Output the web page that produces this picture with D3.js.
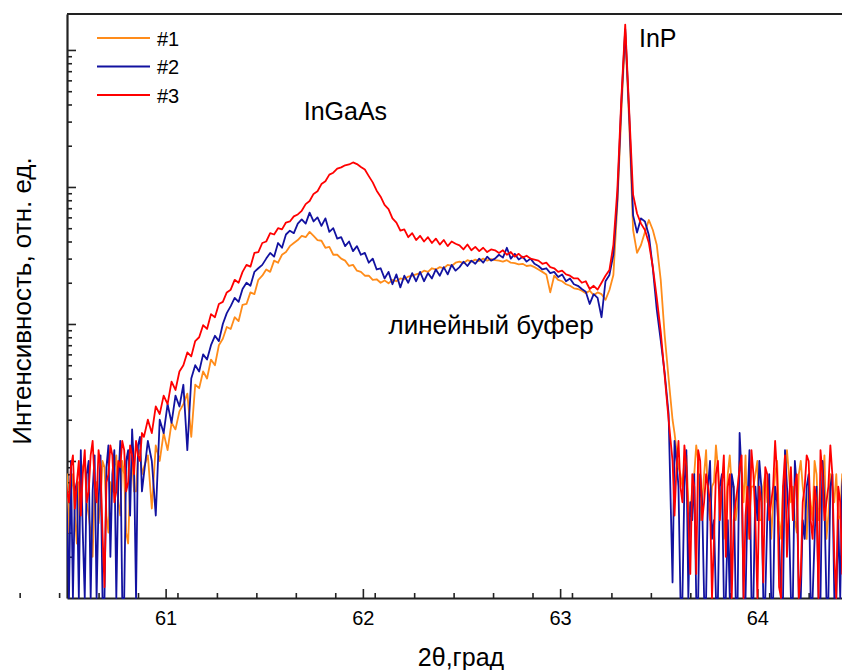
<!DOCTYPE html>
<html><head><meta charset="utf-8">
<script src="https://cdn.jsdelivr.net/npm/d3@7"></script>
<style>
body{margin:0;background:#fff}
svg{display:block}
text{font-family:"Liberation Sans",Arial,sans-serif;fill:#000}
</style>
</head><body>
<svg id="chart" width="842" height="670"></svg>
<script>
// ---- data ----
// 2θ sample positions (deg): fine steps in the noisy tails, 0.02 in between
const sampleX = [
  ...d3.range(6049, 6090, 1),
  ...d3.range(6091, 6358, 2),
  ...d3.range(6358, 6451, 1)
].map(v => v / 100);

const seriesNames = ["#1", "#2", "#3"];
const seriesColors = ["#ff8c1a", "#1212a0", "#ff0000"];
const xTickValues = [61, 62, 63, 64];

const series1 = [
 // 60.49 – 60.89
 5,8,3,6,8,4,2.5,7,6,9,
 10,5,4,3,2,6,7,3.5,5,10,
 9,4,3,7,6,9,11,5,4,10,
 8,3,2.5,7,10,6,6,11,12,8,
 9,
 // 60.91 – 63.57
 11,4.5,13,10,16,12,19,17,23,
 26,31,15,36,34,45,40,55,50,70,
 78,95,92,112,105,138,140,170,165,210,
 225,250,240,290,280,320,335,370,390,410,
 440,430,470,440,410,405,360,365,320,320,
 300,290,265,270,245,240,225,225,210,212,
 200,208,198,210,205,215,212,222,225,230,
 235,245,240,255,250,260,255,270,265,280,
 285,278,292,285,295,288,300,290,298,292,
 290,285,292,280,278,272,275,265,268,260,
 250,240,230,170,225,210,205,195,190,182,
 180,175,168,175,162,170,165,150,177,228,
 735,3400,13400,3000,485,330,377,470,574,485,
 377,210,83,40,20,
 // 63.58 – 64.50
 16,12,9,8,6.5,10,11,5,4,6.5,8,13,10,3.7,5,8,12,5,3.7,6.5,
 7,13,9,5,6.5,2.7,4,8,11,6.5,6.5,3.7,5,10,8,5,11,2.7,4,6.5,
 6.5,8,10,3.7,3.7,6.5,8,5,6.5,2.7,5,8,10,3.7,2.7,6.5,7,12,8,5,
 6.5,3.7,3,8,10,6.5,5,2.7,6.5,5,3.7,10,8,3.7,5,6.5,11,2.7,4,8,
 6.5,5,8,3.7,4,8,6.5,2.7,3.7,6.5,9,5,
 6.5
];
const series2 = [
 // 60.49 – 60.89
 9,4,1,10,1,6,7,1,12,3,
 1,8,10,1,6,11,1,5,11,1,
 1,9,13,2,8,12,1,7,14,1,
 1,10,12,4,17,9,1,13,15,6,
 8,
 // 60.91 – 63.57
 14,10,4,20,16,26,19,30,25,
 36,12,40,50,45,60,55,70,82,75,
 100,120,135,155,145,180,200,190,240,255,
 270,300,330,310,390,360,450,480,460,540,
 580,540,650,560,600,520,590,470,500,420,
 430,370,400,340,370,320,330,280,300,250,
 255,215,240,195,230,185,225,200,235,205,
 240,205,235,215,250,225,260,230,270,245,
 260,285,265,290,275,300,280,310,290,300,
 320,305,360,300,325,295,310,285,300,275,
 265,250,255,235,240,220,230,205,215,195,
 190,180,172,140,165,155,112,205,228,320,
 804,4000,14200,3400,620,465,590,560,445,255,
 127,76,44,22,1.3,
 // 63.58 – 64.50
 14,10,6.5,1,1,6.5,12,1,5,3.7,8,1,1,8,5,1,1,6.5,10,2.7,
 3.7,1,1,6.5,8,1,1,3.7,1,8,6.5,1,1,16,8,1,1,5,12,1,
 1,6.5,3.7,10,6.5,1,1,3.7,8,1,1,6.5,5,2.7,1,1,12,6.5,3.7,1,
 1,10,6.5,1,1,3.7,2.7,6.5,8,1,1,2.7,6.5,1,1,10,5,1,1,6.5,
 8,1,1,3.7,1,6.5,10,1,1,5,6.5,1,
 3.7
];
const series3 = [
 // 60.49 – 60.89
 8,6,5,9,11,4.5,7,10,4,8,
 12,5,6,11,14,7,5,12,9,3,
 1.2,7,8,13,11,5,6,10,9,14,
 12,6,7,13,11,8,14,11,10,16,
 15,
 // 60.91 – 63.57
 20,16,25,22,30,26,38,33,45,
 50,62,58,75,80,98,92,118,112,140,
 145,170,178,210,200,240,270,262,330,335,
 390,400,460,450,500,490,550,560,610,630,
 670,750,790,890,930,1050,1100,1230,1270,1360,
 1390,1440,1460,1510,1470,1400,1340,1200,1080,940,
 850,740,690,590,550,480,490,430,460,410,
 440,400,430,390,420,380,410,370,400,385,
 375,350,380,345,365,340,360,335,350,345,
 330,345,320,335,310,325,305,315,300,295,
 290,275,280,260,255,240,245,230,225,215,
 215,200,205,180,190,178,200,225,248,377,
 950,4310,15300,3650,880,640,540,485,390,260,
 155,88,42,20,10,
 // 63.58 – 64.50
 4,9,14,6.5,5,13,9,3.7,1.5,8,6.5,1.5,12,10,3.7,5,8,6.5,5,1,
 2.7,8,10,3.7,6.5,11,2,6.5,8,1,3.7,5,6.5,9,11,1,4,6.5,2.7,12,
 8,3.7,1,6.5,5,1.3,9,8,3.7,5,6.5,14,8,1.2,1,6.5,11,2,5,9,
 3.7,6.5,8,1,1.5,5,6.5,11,10,3.7,2.7,6.5,5,1,12,8,3.7,5,6.5,13,
 8,2,1,6.5,5,1.5,2.7,9,8,1,3.7,6.5,
 5
];
const allSeries = [series1, series2, series3];

const annotations = [
  {text: "InGaAs", x: 61.70, v: 3080},
  {text: "InP", x: 63.40, v: 10500},
  {text: "линейный буфер", x: 62.13, v: 84}
];
const xTitle = "2θ,град";
const yTitle = "Интенсивность, отн. ед.";

// ---- layout ----
const svg = d3.select("#chart");
const mLeft = 67, mTop = 14, mBottom = 598, mRightEnd = 856, viewRight = 842;

const x = d3.scaleLinear().domain([60.5, 64.5]).range([mLeft, mRightEnd]);
const y = d3.scaleLog().domain([1, 18300]).range([mBottom, mTop]).clamp(true);

const axisColor = "#222";

// y axis (ticks pointing inward)
const allY = y.ticks();
const majorY = allY.filter(v => Math.abs(Math.log10(v) - Math.round(Math.log10(v))) < 1e-9 && v > 1);
const minorY = allY.filter(v => !majorY.includes(v) && v > 1);

const gyMinor = svg.append("g").attr("transform", `translate(${mLeft},0)`)
  .call(d3.axisRight(y).tickValues(minorY).tickSize(5).tickSizeOuter(0).tickFormat(""));
const gyMajor = svg.append("g").attr("transform", `translate(${mLeft},0)`)
  .call(d3.axisRight(y).tickValues(majorY).tickSize(9).tickSizeOuter(0).tickFormat(""));
gyMinor.select(".domain").remove();

// x axis
const minorX = d3.range(606, 6450, 20).map(d => d / 100).filter(d => Math.abs(d - Math.round(d)) > 1e-6);
const gxMinor = svg.append("g").attr("transform", `translate(0,${mBottom})`)
  .call(d3.axisBottom(x).tickValues(minorX).tickSize(-5).tickSizeOuter(0).tickFormat(""));
gxMinor.select(".domain").remove();
const gxMajor = svg.append("g").attr("transform", `translate(0,${mBottom})`)
  .call(d3.axisBottom(x).tickValues(xTickValues).tickSize(-9).tickSizeOuter(0).tickPadding(13).tickFormat(d3.format("d")));

svg.selectAll(".tick line").attr("stroke", axisColor).attr("stroke-width", 1.6);
svg.selectAll(".domain").attr("stroke", axisColor).attr("stroke-width", 2.2);
gxMajor.selectAll(".tick text").attr("font-size", 20).attr("font-family", "Liberation Sans, Arial, sans-serif").attr("fill", "#000");

// top frame line
svg.append("line").attr("x1", mLeft).attr("x2", viewRight).attr("y1", mTop).attr("y2", mTop)
  .attr("stroke", axisColor).attr("stroke-width", 2.2);

// clip
svg.append("clipPath").attr("id", "plotClip").append("rect")
  .attr("x", mLeft).attr("y", mTop).attr("width", viewRight - mLeft).attr("height", mBottom - mTop + 1);

const line = d3.line()
  .x((d, i) => x(sampleX[i]))
  .y(d => y(d));

const plot = svg.append("g").attr("clip-path", "url(#plotClip)");
allSeries.forEach((s, k) => {
  plot.append("path").datum(s)
    .attr("fill", "none")
    .attr("stroke", seriesColors[k])
    .attr("stroke-width", 1.8)
    .attr("stroke-linejoin", "round")
    .attr("d", line);
});

// legend
const legend = svg.append("g");
seriesNames.forEach((name, k) => {
  const ly = 38 + k * 28.5;
  legend.append("line").attr("x1", 97).attr("x2", 150).attr("y1", ly).attr("y2", ly)
    .attr("stroke", seriesColors[k]).attr("stroke-width", 2);
  legend.append("text").attr("x", 157).attr("y", ly + 7.5).attr("font-size", 20).text(name);
});

// annotations
annotations.forEach((a, k) => {
  svg.append("text").attr("x", x(a.x)).attr("y", y(a.v))
    .attr("font-size", k === 2 ? 26 : 25).text(a.text);
});

// axis titles
svg.append("text").attr("x", 461).attr("y", 666)
  .attr("text-anchor", "middle").attr("font-size", 25).text(xTitle);
svg.append("text").attr("transform", "translate(31,301) rotate(-90)")
  .attr("text-anchor", "middle").attr("font-size", 26).text(yTitle);
</script>
</body></html>
